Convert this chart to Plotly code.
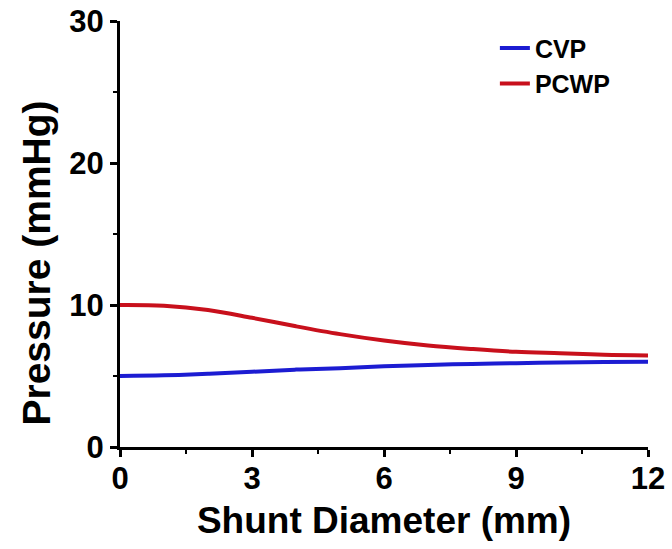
import plotly.graph_objects as go

shunt_mm = [0, 1, 2, 3, 4, 5, 6, 7, 8, 9, 10, 11, 12]
cvp = [5.0, 5.05, 5.15, 5.3, 5.45, 5.55, 5.68, 5.78, 5.85, 5.9, 5.95, 5.98, 6.0]
pcwp = [10.0, 9.95, 9.65, 9.1, 8.5, 7.95, 7.5, 7.15, 6.9, 6.7, 6.6, 6.5, 6.45]

FONT = "Liberation Sans"

fig = go.Figure()
fig.add_trace(go.Scatter(x=shunt_mm, y=cvp, mode="lines", name="CVP",
                         line=dict(color="#1c1cd2", width=4, shape="spline")))
fig.add_trace(go.Scatter(x=shunt_mm, y=pcwp, mode="lines", name="PCWP",
                         line=dict(color="#c8101c", width=4, shape="spline")))

axis_common = dict(
    showline=True, linecolor="black", linewidth=3, mirror=False,
    showgrid=False, zeroline=False,
    ticks="outside", ticklen=7, tickwidth=3, tickcolor="black",
    tickfont=dict(family=FONT, size=31, color="black", weight="bold"),
    minor=dict(ticks="outside", ticklen=4, tickwidth=2, tickcolor="black"),
)

fig.update_layout(
    width=672, height=549,
    margin=dict(l=120, r=24, t=21, b=102),
    paper_bgcolor="white", plot_bgcolor="white",
    showlegend=True,
    legend=dict(x=0.71, y=0.99, xanchor="left", yanchor="top",
                bgcolor="rgba(0,0,0,0)",
                font=dict(family=FONT, size=25, color="black", weight="bold"),
                tracegroupgap=0, itemwidth=30),
    xaxis=dict(range=[0, 12], tickvals=[0, 3, 6, 9, 12],
               minor_tickvals=[1.5, 4.5, 7.5, 10.5],
               ticklabelstandoff=-5,
               title=dict(text="Shunt Diameter (mm)", standoff=12,
                          font=dict(family=FONT, size=37, color="black", weight="bold")),
               **axis_common),
    yaxis=dict(range=[0, 30], tickvals=[0, 10, 20, 30],
               minor_tickvals=[5, 15, 25],
               **axis_common),
    annotations=[dict(text="Pressure (mmHg)", textangle=-90,
                      xref="paper", yref="paper", x=-0.158, y=0.432,
                      xanchor="center", yanchor="middle", showarrow=False,
                      font=dict(family=FONT, size=39, color="black", weight="bold"))],
)
fig.update_xaxes(automargin=False)
fig.update_yaxes(automargin=False)

fig.write_html("out.html")
